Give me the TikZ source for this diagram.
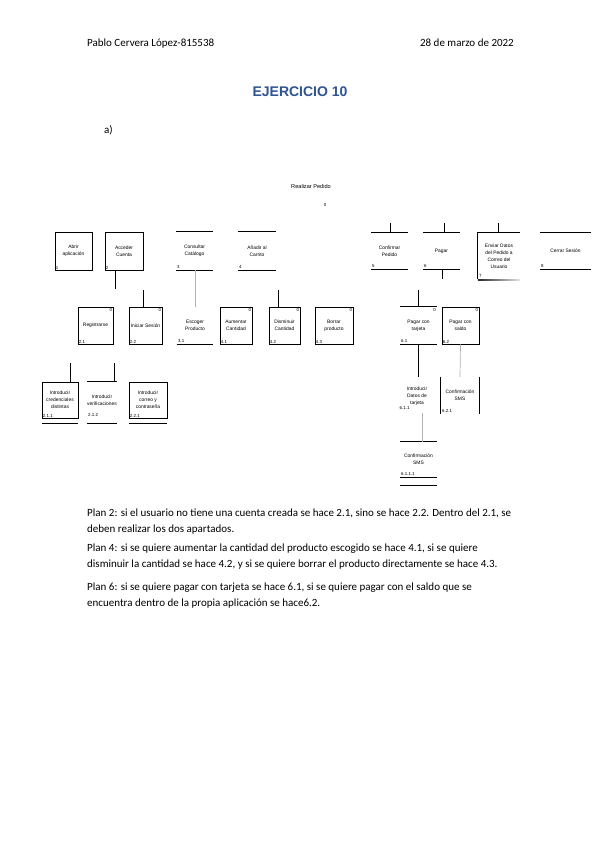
\documentclass[tikz,border=0pt]{standalone}
\usepackage{fontspec}
\setmainfont{Carlito}
\newfontfamily\arialfont{Liberation Sans}
\usetikzlibrary{positioning}
\definecolor{tituloazul}{RGB}{47,84,150}
\newcommand{\diagfont}{\arialfont\fontsize{4.9}{6.9}\selectfont}
\newcommand{\numfont}{\arialfont\fontsize{4.4}{5}\selectfont}

\begin{document}
\begin{tikzpicture}[x=1pt,y=-1pt,
    tarea/.style={minimum width=37pt, minimum height=37pt, inner sep=0pt, align=center, font=\diagfont},
    cerrada/.style={tarea, draw, line width=0.9pt},
    borde/.style={line width=0.9pt},
    enlace/.style={line width=0.7pt},
    enlacegris/.style={line width=0.7pt, gray!60},
    num/.style={anchor=south west, inner sep=1.2pt, font=\numfont},
    plan/.style={anchor=north east, inner sep=1.2pt, font=\numfont},
    parrafo/.style={anchor=base west, inner sep=0pt, font=\fontsize{11}{13}\selectfont}]
    \fill[white] (0,0) rectangle (599,848);
    \useasboundingbox (0,0) rectangle (599,848);

    % Header
    \node[anchor=base west, inner sep=0pt, font=\fontsize{11}{13}\selectfont] (autor) at (87,47) {Pablo Cervera López-815538};
    \node[anchor=base east, inner sep=0pt, font=\fontsize{11}{13}\selectfont] (fecha) at (514,47) {28 de marzo de 2022};
    \node[anchor=base, inner sep=0pt, text=tituloazul, font=\arialfont\bfseries\fontsize{14}{16}\selectfont] (titulo) at (300,97) {EJERCICIO 10};
    \node[anchor=base west, inner sep=0pt, font=\fontsize{11}{13}\selectfont] (apartado) at (104,134) {a)};

    % Root
    \node[inner sep=0pt, font=\arialfont\fontsize{5.6}{7}\selectfont] (raiz) at (311,186) {Realizar Pedido};
    \node[inner sep=0pt, font=\numfont] (raiznum) at (325,205) {0};

    % Level 1
    \node[cerrada, minimum height=38pt] (t1) at (73.5,251) {Abrir\\aplicación};
    \node[num] at (t1.south west) {1};
    \node[cerrada, minimum width=38pt, minimum height=38pt] (t2) at (124,251) {Acceder\\Cuenta};
    \node[num] at (t2.south west) {2};
    \node[tarea, minimum height=38pt] (t3) at (194.5,251) {Consultar\\Catálogo};
    \node[num] at (t3.south west) {3};
    \node[tarea, minimum width=38pt, minimum height=38pt] (t4) at (257,251) {Añadir al\\Carrito};
    \node[num] at (t4.south west) {4};
    \node[tarea, minimum height=36pt] (t5) at (389.5,251) {Confirmar\\Pedido};
    \node[num] at (t5.south west) {5};
    \node[tarea, minimum height=36pt] (t6) at (441.5,251) {Pagar};
    \node[num] at (t6.south west) {6};
    \node[tarea, minimum width=42pt, minimum height=46pt] (t7) at (499,256) {Enviar Datos\\del Pedido a\\Correo del\\Usuario};
    \node[num] at (t7.south west) {7};
    \node[tarea, minimum width=51pt, minimum height=36pt] (t8) at (565.5,251) {Cerrar Sesión};
    \node[num] at (t8.south west) {8};

    \draw[borde] (t3.north west) -- (t3.north east) (t3.south west) -- (t3.south east);
    \draw[borde] (t4.north west) -- (t4.north east) (t4.south west) -- (t4.south east);
    \draw[borde] (t5.north west) -- (t5.north east) (t5.south west) -- (t5.south east);
    \draw[borde] (t6.north west) -- (t6.north east) (t6.south west) -- (t6.south east);
    \draw[borde] (t8.north west) -- (t8.north east) (t8.south west) -- (t8.south east);
    \draw[borde] (t7.north east) -- (t7.north west) -- (t7.south west);
    \shade[left color=black!85, right color=black!10] (t7.south west) rectangle ([yshift=-1.4pt]t7.south east);

    % Level 2
    \node[cerrada, minimum width=35pt] (t21) at (95.5,325.5) {Registrarse};
    \node[num] at (t21.south west) {2.1};
    \node[plan] at (t21.north east) {0};
    \node[cerrada, minimum width=33pt] (t22) at (145.5,325.5) {Iniciar Sesión};
    \node[num] at (t22.south west) {2.2};
    \node[plan] at (t22.north east) {0};
    \node[tarea, minimum width=36pt] (t31) at (195,325.5) {Escoger\\Producto};
    \node[num] at (t31.south west) {3.1};
    \node[cerrada, minimum width=32pt] (t41) at (236,325.5) {Aumentar\\Cantidad};
    \node[num] at (t41.south west) {4.1};
    \node[plan] at (t41.north east) {0};
    \node[cerrada, minimum width=31pt] (t42) at (284.5,325.5) {Disminuir\\Cantidad};
    \node[num] at (t42.south west) {4.2};
    \node[plan] at (t42.north east) {0};
    \node[cerrada, minimum width=38pt] (t43) at (334,325.5) {Borrar\\producto};
    \node[num] at (t43.south west) {4.3};
    \node[plan] at (t43.north east) {0};
    \node[tarea] (t61) at (418.5,325.5) {Pagar con\\tarjeta};
    \node[num] at (t61.south west) {6.1};
    \node[plan] at (t61.north east) {0};
    \node[cerrada] (t62) at (460.5,325.5) {Pagar con\\saldo};
    \node[num] at (t62.south west) {6.2};
    \node[plan] at (t62.north east) {0};

    \draw[borde] (t31.south west) -- (t31.south east);
    \draw[borde] (t61.north west) -- (t61.north east) (t61.south west) -- (t61.south east);

    % Level 3
    \node[cerrada, minimum width=36pt, minimum height=36pt] (t211) at (60,400) {Introducir\\credenciales\\distintas};
    \node[num] at (t211.south west) {2.1.1};
    \node[tarea, minimum width=30pt, minimum height=36pt] (t212) at (102,400) {Introducir\\verificaciones};
    \node[num] at (t212.south west) {2.1.2};
    \node[cerrada, minimum width=38pt, minimum height=36pt] (t221) at (148,400) {Introducir\\correo y\\contraseña};
    \node[num] at (t221.south west) {2.2.1};
    \node[tarea, minimum height=30pt] (t611) at (417,396) {Introducir\\Datos de\\tarjeta};
    \node[num] at (t611.south west) {6.1.1};
    \node[tarea, minimum width=38pt] (t621) at (460,395.5) {Confirmación\\SMS};
    \node[num] at (t621.south west) {6.2.1};
    \node[tarea, minimum height=35pt] (t6111) at (418.5,459.5) {Confirmación\\SMS};
    \node[num] at (t6111.south west) {6.1.1.1};

    \draw[borde] ([yshift=-5pt]t211.south west) -- ([yshift=-5pt]t211.south east);
    \draw[borde] (t212.north west) -- (t212.north east);
    \draw[borde] ([yshift=-5pt]t212.south west) -- ([yshift=-5pt]t212.south east);
    \draw[borde] ([yshift=-5pt]t221.south west) -- ([yshift=-5pt]t221.south east);
    \draw[borde] (t621.north west) -- (t621.south west) (t621.north east) -- (t621.south east);
    \draw[borde] (t6111.north west) -- (t6111.north east) (t6111.south west) -- (t6111.south east);
    \draw[borde] ([yshift=-8pt]t6111.south west) -- ([yshift=-8pt]t6111.south east);

    % Connectors
    \coordinate (c2) at (115,289);
    \draw[enlace] (t2.south -| c2) -- (c2);
    \coordinate (c22) at (143,290);
    \draw[enlace] (c22) -- (t22.north -| c22);
    \draw[enlacegris] (t3.south -| t31.north) -- (t31.north);
    \coordinate (c42) at (278,290);
    \draw[enlace] (c42) -- (t42.north -| c42);
    \coordinate (c5) at (390,223);
    \draw[enlace] (c5) -- (t5.north -| c5);
    \coordinate (c6) at (444,223);
    \draw[enlace] (c6) -- (t6.north -| c6);
    \coordinate (c7) at (498,223);
    \draw[enlace] (c7) -- (t7.north -| c7);
    \coordinate (c6b) at (442,279);
    \draw[enlace] (t6.south -| c6b) -- (c6b);
    \coordinate (c61) at (418,290);
    \draw[enlace] (c61) -- (t61.north -| c61);
    \draw[enlacegris] (t62.south) -- (t621.north);
    \coordinate (c611) at (418,377);
    \draw[enlace] (t61.south -| c611) -- (c611);
    \coordinate (c6111) at (422,413);
    \draw[enlacegris] (c6111) -- (t6111.north -| c6111);
    \coordinate (c211) at (70,363);
    \draw[enlace] (c211) -- (t211.north -| c211);
    \coordinate (c212) at (114,363);
    \draw[enlace] (c212) -- (t212.north -| c212);

    % Plans
    \node[parrafo] (p2a) at (87,516.5) {Plan 2: si el usuario no tiene una cuenta creada se hace 2.1, sino se hace 2.2. Dentro del 2.1, se};
    \node[parrafo] (p2b) at (87,532.5) {deben realizar los dos apartados.};
    \node[parrafo] (p4a) at (87,551.5) {Plan 4: si se quiere aumentar la cantidad del producto escogido se hace 4.1, si se quiere};
    \node[parrafo] (p4b) at (87,567.5) {disminuir la cantidad se hace 4.2, y si se quiere borrar el producto directamente se hace 4.3.};
    \node[parrafo] (p6a) at (87,590) {Plan 6: si se quiere pagar con tarjeta se hace 6.1, si se quiere pagar con el saldo que se};
    \node[parrafo] (p6b) at (87,606) {encuentra dentro de la propia aplicación se hace6.2.};
\end{tikzpicture}
\end{document}
